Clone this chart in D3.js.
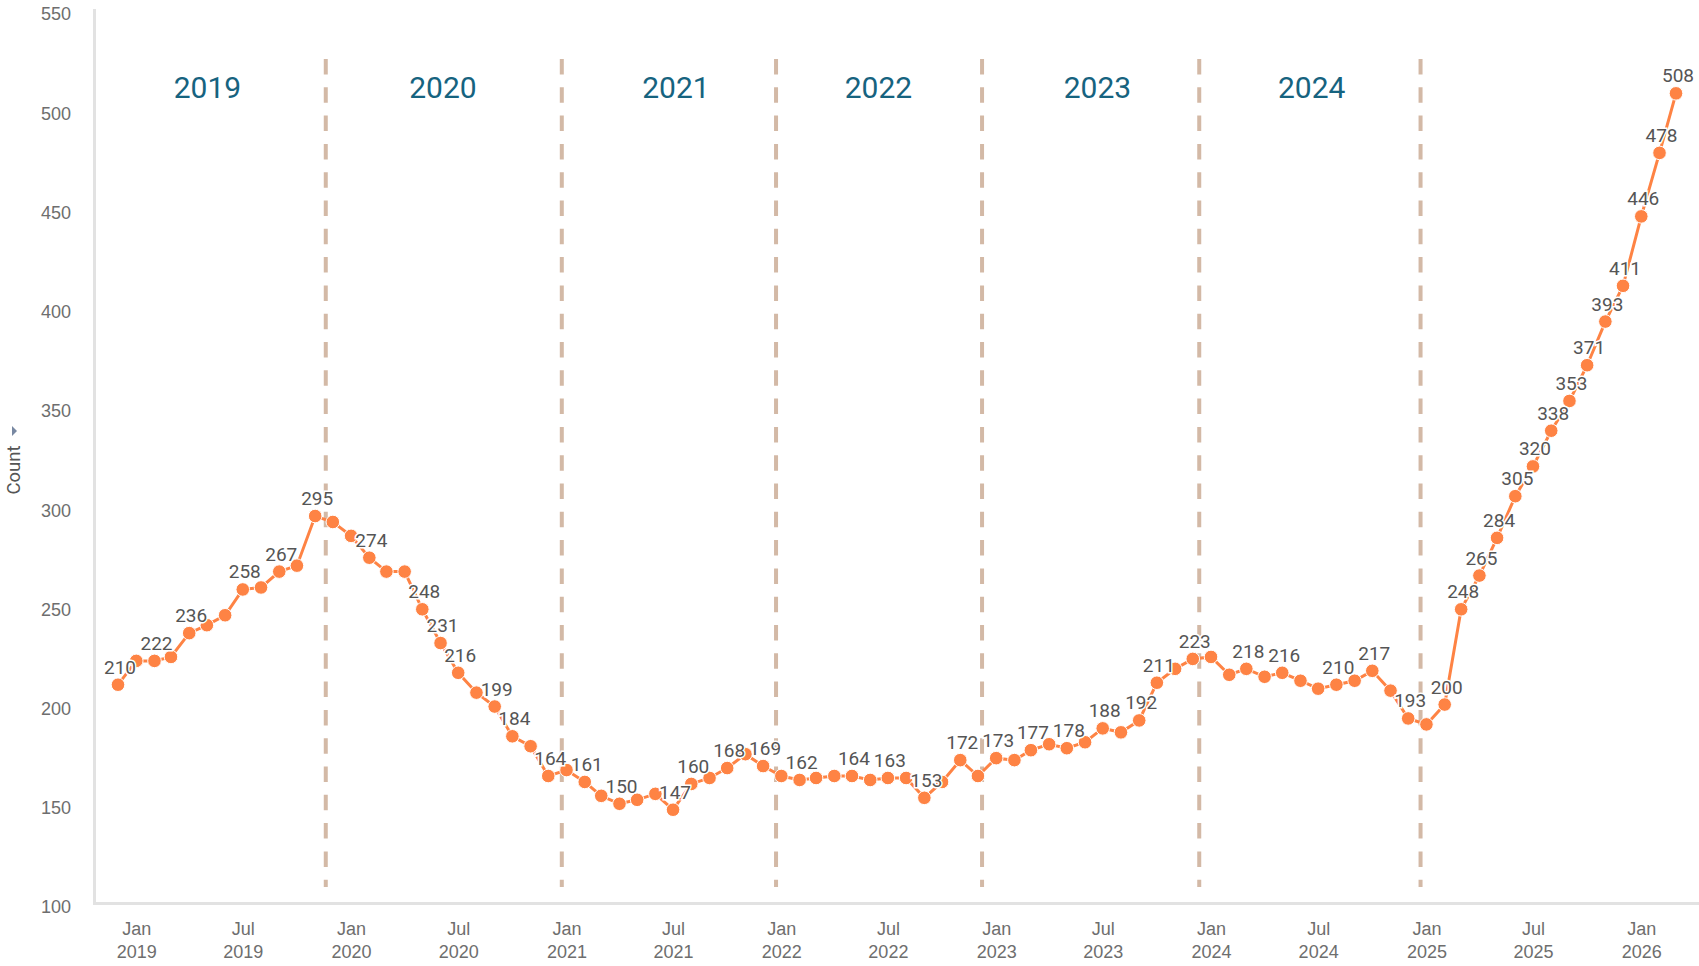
<!DOCTYPE html>
<html>
<head>
<meta charset="utf-8">
<script src="https://cdn.jsdelivr.net/npm/d3@7"></script>
<style>
    html, body { margin: 0; padding: 0; background: #fff; }
    svg { display: block; font-family: Roboto, "Liberation Sans", sans-serif; }
</style>
</head>
<body>
<div id="chart"></div>
<script>
// monthly counts, first value is Dec 2018, last is Mar 2026
const firstMonth = '2018-12-01';
const counts = [
    210,
    222, 222, 224, 236, 240, 245, 258, 259, 267, 270, 295, 292,
    285, 274, 267, 267, 248, 231, 216, 206, 199, 184, 179, 164,
    167, 161, 154, 150, 152, 155, 147, 160, 163, 168, 175, 169,
    164, 162, 163, 164, 164, 162, 163, 163, 153, 161, 172, 164,
    173, 172, 177, 180, 178, 181, 188, 186, 192, 211, 218, 223,
    224, 215, 218, 214, 216, 212, 208, 210, 212, 217, 207, 193,
    190, 200, 248, 265, 284, 305, 320, 338, 353, 371, 393, 411,
    446, 478, 508,
];
// which points carry a value label (index into counts)
const labelled = [
    0, 2, 4, 7, 9, 11, 14, 17, 18, 19, 21, 22, 24, 26, 28, 31, 32, 34, 36, 38,
    41, 43, 45, 47, 49, 51, 53, 55, 57, 58, 60, 63, 65, 68, 70, 72, 74,
    75, 76, 77, 78, 79, 80, 81, 82, 83, 84, 85, 86, 87,
];
const yTicks = [100, 150, 200, 250, 300, 350, 400, 450, 500, 550];
const xTicks = [
    '2019-01-01', '2019-07-01', '2020-01-01', '2020-07-01', '2021-01-01', '2021-07-01',
    '2022-01-01', '2022-07-01', '2023-01-01', '2023-07-01', '2024-01-01', '2024-07-01',
    '2025-01-01', '2025-07-01', '2026-01-01',
];
// year separators (reference lines) and year captions
const dividers = ['2019-11-19', '2020-12-24', '2021-12-23', '2022-12-08', '2023-12-12', '2024-12-22'];
const yearNames = ['2019', '2020', '2021', '2022', '2023', '2024'];
const yearAnchors = ['2019-05-02', '2020-06-05', '2021-07-06', '2022-06-15', '2023-06-22', '2024-06-20'];

const W = 1699;
const H = 966;
const ORANGE = '#fe8344';
const DIVIDER = '#d3b9a6';
const AXIS_GREY = '#e2e2e2';
const TEXT_GREY = '#6e6e6e';

const parse = d3.utcParse('%Y-%m-%d');
const start = parse(firstMonth);
const points = counts.map((v, i) => ({ date: d3.utcMonth.offset(start, i), value: v, i }));

const x = d3.scaleUtc()
    .domain([start, points[points.length - 1].date])
    .range([118, 1676]);
const y = d3.scaleLinear()
    .domain([100, 550])
    .range([903, 10]);

const svg = d3.select('#chart')
    .append('svg')
    .attr('width', W)
    .attr('height', H);

// y axis
const yAxis = svg.append('g')
    .attr('transform', 'translate(71,0)')
    .call(d3.axisLeft(y).tickValues(yTicks).tickSize(0).tickPadding(0));
yAxis.select('.domain').remove();
yAxis.selectAll('text')
    .attr('dy', '0.55em')
    .attr('fill', TEXT_GREY)
    .style('font-size', '18px');

svg.append('line')
    .attr('x1', 94.5).attr('x2', 94.5)
    .attr('y1', 9).attr('y2', 904)
    .attr('stroke', AXIS_GREY)
    .attr('stroke-width', 3);

// y title
const title = svg.append('g').attr('transform', 'translate(14,470) rotate(-90)');
title.append('text')
    .attr('text-anchor', 'middle')
    .attr('dy', '0.35em')
    .attr('fill', '#555')
    .style('font-size', '18.5px')
    .text('Count');
svg.append('path')
    .attr('d', 'M12,426 L17,431 L12,436 Z')
    .attr('fill', '#7888a2');

// x axis: tick positions from the axis, two-line labels drawn per tick
const xAxis = svg.append('g')
    .attr('transform', 'translate(0,903)')
    .call(d3.axisBottom(x).tickValues(xTicks.map(parse)).tickSize(0).tickFormat(() => ''));
xAxis.select('.domain').remove();
xAxis.selectAll('.tick text').remove();
xAxis.selectAll('.tick').each(function (d) {
    const g = d3.select(this);
    g.append('text')
        .attr('y', 32)
        .attr('text-anchor', 'middle')
        .attr('fill', TEXT_GREY)
        .style('font-size', '18px')
        .text(d3.utcFormat('%b')(d));
    g.append('text')
        .attr('y', 55)
        .attr('text-anchor', 'middle')
        .attr('fill', TEXT_GREY)
        .style('font-size', '18px')
        .text(d3.utcFormat('%Y')(d));
});

svg.append('line')
    .attr('x1', 93).attr('x2', W)
    .attr('y1', 903.5).attr('y2', 903.5)
    .attr('stroke', AXIS_GREY)
    .attr('stroke-width', 3);

// year dividers
svg.append('g')
    .selectAll('line')
    .data(dividers.map(parse))
    .enter()
    .append('line')
    .attr('x1', d => x(d)).attr('x2', d => x(d))
    .attr('y1', 59).attr('y2', 887)
    .attr('stroke', DIVIDER)
    .attr('stroke-width', 4)
    .attr('stroke-dasharray', '15.5 12.8');

svg.append('g')
    .selectAll('text')
    .data(yearNames)
    .enter()
    .append('text')
    .attr('x', (d, i) => x(parse(yearAnchors[i])))
    .attr('y', 98)
    .attr('text-anchor', 'middle')
    .attr('fill', '#16637f')
    .style('font-size', '30px')
    .text(d => d);

// series
const line = d3.line()
    .x(d => x(d.date))
    .y(d => y(d.value));

svg.append('path')
    .datum(points)
    .attr('d', line)
    .attr('fill', 'none')
    .attr('stroke', ORANGE)
    .attr('stroke-width', 3);

svg.append('g')
    .selectAll('circle')
    .data(points)
    .enter()
    .append('circle')
    .attr('cx', d => x(d.date))
    .attr('cy', d => y(d.value))
    .attr('r', 6.8)
    .attr('fill', ORANGE)
    .attr('stroke', '#fff')
    .attr('stroke-width', 1);

svg.append('g')
    .selectAll('text')
    .data(points.filter(d => labelled.includes(d.i)))
    .enter()
    .append('text')
    .attr('x', d => x(d.date) + 2)
    .attr('y', d => y(d.value) - 11)
    .attr('text-anchor', 'middle')
    .attr('fill', '#555')
    .attr('stroke', '#fff')
    .attr('stroke-width', 3)
    .attr('paint-order', 'stroke')
    .style('font-size', '19px')
    .text(d => d.value);
</script>
</body>
</html>
